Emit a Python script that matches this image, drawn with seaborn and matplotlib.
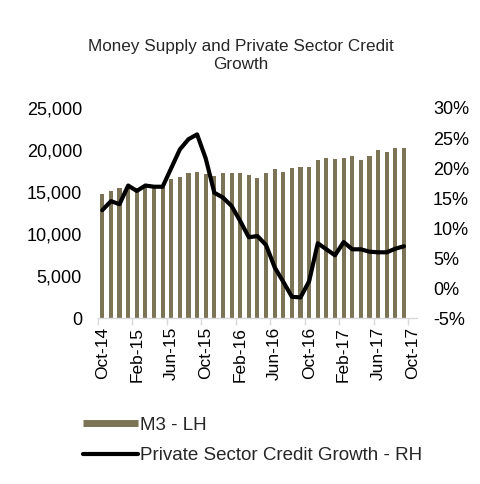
import numpy as np
import pandas as pd
import matplotlib
matplotlib.use("Agg")
import matplotlib.pyplot as plt
from matplotlib.lines import Line2D
from matplotlib.ticker import FuncFormatter, FixedLocator
import seaborn as sns

# Month categories on the x axis (Oct-14 .. Oct-17)
months = ["Oct-14", "Nov-14", "Dec-14", "Jan-15", "Feb-15", "Mar-15", "Apr-15", "May-15",
          "Jun-15", "Jul-15", "Aug-15", "Sep-15", "Oct-15", "Nov-15", "Dec-15", "Jan-16",
          "Feb-16", "Mar-16", "Apr-16", "May-16", "Jun-16", "Jul-16", "Aug-16", "Sep-16",
          "Oct-16", "Nov-16", "Dec-16", "Jan-17", "Feb-17", "Mar-17", "Apr-17", "May-17",
          "Jun-17", "Jul-17", "Aug-17", "Sep-17", "Oct-17"]

# Broad money (M3), left axis
m3 = [14750, 15180, 15460, 15680, 15500, 15700, 15650, 15650,
      16530, 16840, 17240, 17380, 17180, 16920, 17220, 17240,
      17240, 17080, 16720, 17280, 17720, 17440, 17910, 17990,
      17990, 18820, 19100, 18940, 19020, 19260, 18860, 19260,
      20050, 19770, 20250, 20250]

# Private sector credit growth (%), right axis
credit = [13.0, 14.5, 14.0, 17.1, 16.2, 17.1, 16.9, 16.9,
          20.0, 23.1, 24.8, 25.6, 21.6, 15.9, 15.1, 13.7,
          11.2, 8.5, 8.7, 7.2, 3.5, 1.1, -1.4, -1.5,
          1.2, 7.5, 6.5, 5.5, 7.7, 6.5, 6.5, 6.1,
          6.0, 6.0, 6.6, 7.0]

label_every = 4
bar_color = "#7B7456"
axis_grey = "#D9D9D9"

sns.set_theme(style="white")
plt.rcParams["font.family"] = ["Liberation Sans", "DejaVu Sans"]

df = pd.DataFrame({"pos": np.arange(len(m3)), "m3": m3, "credit": credit})

fig = plt.figure(figsize=(4.81, 4.84), dpi=100)
ax = fig.add_axes([0.2037, 0.342, 0.663, 0.435])
ax2 = ax.twinx()

sns.barplot(data=df, x="pos", y="m3", native_scale=True, width=0.48,
            color=bar_color, saturation=1, ax=ax, linewidth=0)
sns.lineplot(data=df, x="pos", y="credit", color="black", linewidth=3.0,
             ax=ax2, solid_capstyle="round")

n_cat = len(months)
for a in (ax, ax2):
    a.set_xlim(-0.5, n_cat - 0.5)
    a.set_xlabel("")
    a.set_ylabel("")
    for s in a.spines.values():
        s.set_visible(False)
    a.grid(False)

ax.set_ylim(0, 25000)
ax.set_yticks(np.arange(0, 25001, 5000))
ax.yaxis.set_major_formatter(FuncFormatter(lambda v, p: f"{int(v):,}"))
ax2.set_ylim(-5, 30)
ax2.set_yticks(np.arange(-5, 31, 5))
ax2.yaxis.set_major_formatter(FuncFormatter(lambda v, p: f"{int(v)}%"))

ax.spines["bottom"].set_visible(True)
ax.spines["bottom"].set_color(axis_grey)
ax.spines["bottom"].set_linewidth(1.0)

label_pos = list(range(0, n_cat, label_every))
ax.xaxis.set_major_locator(FixedLocator(label_pos))
ax.set_xticklabels([months[i] for i in label_pos], rotation=90)
ax.xaxis.set_minor_locator(FixedLocator([p - 0.5 for p in label_pos]))
ax.tick_params(axis="x", which="major", length=0, pad=6, labelsize=12.5, colors="black")
ax.tick_params(axis="x", which="minor", bottom=True, length=5, width=1.0, color=axis_grey)
ax.tick_params(axis="y", length=0, pad=11.5, labelsize=13, colors="black")
ax2.tick_params(axis="y", length=0, pad=11.5, labelsize=13, colors="black")
ax2.tick_params(axis="x", bottom=False, labelbottom=False)

fig.text(0.5, 0.885, "Money Supply and Private Sector Credit\nGrowth", ha="center",
         va="center", fontsize=12.3, linespacing=1.3)

handles = [Line2D([], [], color=bar_color, linewidth=5, solid_capstyle="butt"),
           Line2D([], [], color="black", linewidth=3)]
fig.legend(handles, ["M3 - LH", "Private Sector Credit Growth - RH"],
           loc="upper left", bbox_to_anchor=(0.158, 0.155), frameon=False,
           fontsize=13.5, handlelength=2.9, handletextpad=0.12, labelspacing=0.72,
           borderaxespad=0)

fig.savefig("out.png", dpi=100, facecolor="white")
